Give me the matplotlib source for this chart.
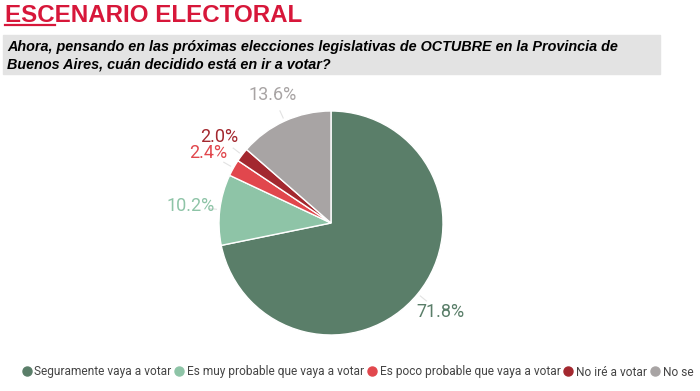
import numpy as np
import matplotlib
matplotlib.use('Agg')
import matplotlib.pyplot as plt
from matplotlib.patches import Rectangle
from matplotlib.lines import Line2D

categories = ['Seguramente vaya a votar', 'Es muy probable que vaya a votar',
              'Es poco probable que vaya a votar', 'No iré a votar', 'No se']
values = [71.8, 10.2, 2.4, 2.0, 13.6]
colors = ['#5a7e69', '#8ec4a7', '#e1474d', '#a3282f', '#a8a4a4']

title = 'ESCENARIO ELECTORAL'
question = ('Ahora, pensando en las próximas elecciones legislativas de OCTUBRE en la Provincia de\n'
            'Buenos Aires, cuán decidido está en ir a votar?')

W, H = 700, 391
fig = plt.figure(figsize=(W / 100, H / 100), dpi=100)

# title with underlined "ESC" (measure ESC, then drop the helper text)
red = '#d7173a'
esc = fig.text(5 / W, 1 - 22 / H, 'ESC', fontsize=17.4, fontweight='bold',
               family='Liberation Sans', va='baseline', ha='left')
fig.canvas.draw()
bb = esc.get_window_extent().transformed(fig.transFigure.inverted())
esc.remove()
fig.add_artist(Line2D([bb.x0, bb.x1], [1 - 25 / H] * 2, color=red, lw=1.6,
                      transform=fig.transFigure))
fig.text(5 / W, 1 - 22 / H, title, fontsize=17.4, fontweight='bold', color=red,
         family='Liberation Sans', va='baseline', ha='left')

# grey question box
fig.add_artist(Rectangle((3 / W, 1 - 74 / H), 657 / W, 39 / H, color='#e3e3e3',
                         transform=fig.transFigure, zorder=0))
fig.text(7 / W, 1 - 56 / H, question, fontsize=10.4, fontweight='bold', style='italic',
         family='Liberation Sans', va='center', ha='left', linespacing=1.3)

# pie
cx, cy, r = 331, 223, 112
ax = fig.add_axes([(cx - r) / W, (H - cy - r) / H, 2 * r / W, 2 * r / H])
wedges, texts, autotexts = ax.pie(values, colors=colors, startangle=90, counterclock=False,
                                  autopct='%.1f%%', pctdistance=1.26,
                                  wedgeprops=dict(edgecolor='white', linewidth=1))
for w, at, c in zip(wedges, autotexts, colors):
    at.set_color(c)
    at.set_fontsize(13)
    at.set_family('Roboto')
    ang = np.deg2rad((w.theta1 + w.theta2) / 2)
    ax.plot([1.03 * np.cos(ang), 1.1 * np.cos(ang)], [1.03 * np.sin(ang), 1.1 * np.sin(ang)],
            color='#e2e2e2', lw=0.8, clip_on=False)
ax.set_xlim(-1, 1)
ax.set_ylim(-1, 1)
ax.set_aspect('equal')
ax.axis('off')

# legend
handles = [Line2D([], [], marker='o', linestyle='', markersize=6.5, markerfacecolor=c,
                  markeredgecolor=c) for c in colors]
fig.legend(handles, categories, loc='center', bbox_to_anchor=(357 / W, 1 - 372 / H), ncol=5,
           frameon=False, prop={'family': 'Roboto', 'size': 8.6}, handletextpad=0.15,
           columnspacing=0.15, handlelength=1.0, labelcolor='#444444')

fig.savefig('out.png', dpi=100)
